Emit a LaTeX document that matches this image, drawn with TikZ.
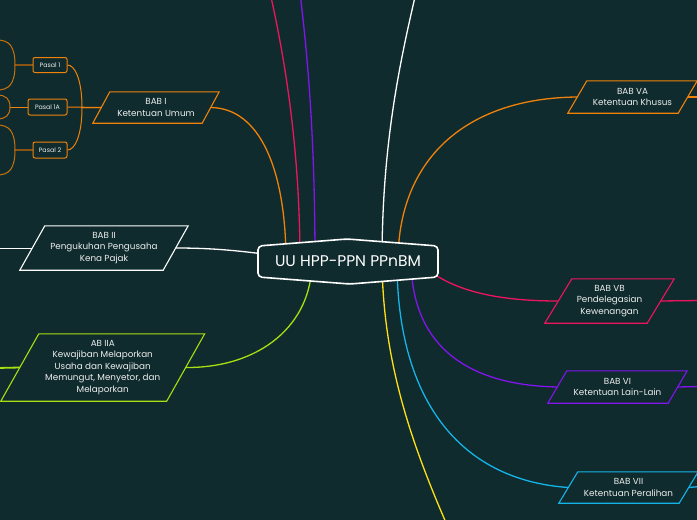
\documentclass[tikz,border=0pt]{standalone}
\usepackage{fontspec}
\setmainfont{Poppins}
\usetikzlibrary{calc}
\definecolor{bgc}{HTML}{0F2B2D}
\definecolor{cor}{HTML}{F0820A}
\definecolor{corl}{HTML}{C8720E}
\definecolor{cbr}{HTML}{8A5514}
\definecolor{cgr}{HTML}{A6E012}
\definecolor{cpk}{HTML}{F0145F}
\definecolor{cpu}{HTML}{8214EE}
\definecolor{ccy}{HTML}{14B4E8}
\definecolor{cye}{HTML}{FFE014}
\definecolor{ctx}{HTML}{EEEEEE}
\pgfdeclarelayer{bglayer}
\pgfdeclarelayer{edges}
\pgfdeclarelayer{shapes}
\pgfsetlayers{bglayer,edges,shapes,main}
\newcommand\paraout[3]{%
  \draw[#3,line width=1.1pt,fill=bgc]
    ($(#1.south west)+(-#2,0)$) -- ($(#1.south east)+(-#2,0)$) --
    ($(#1.north east)+(#2,0)$) -- ($(#1.north west)+(#2,0)$) -- cycle;}
\tikzset{
  para/.style 2 args={minimum width=#1pt, minimum height=#2pt, inner sep=0pt,
    align=center, text=ctx, font=\fontsize{8.8}{11.5}\selectfont},
  pasal/.style={draw=cor, fill=bgc, rounded corners=2pt, line width=1pt,
    inner sep=0pt, text=ctx, font=\fontsize{6.3}{8}\selectfont},
  conn/.style={line width=1.3pt},
}
\begin{document}
\begin{tikzpicture}[x=1pt,y=-1pt]
\begin{pgfonlayer}{bglayer}
\fill[bgc] (0,0) rectangle (697,520);
\end{pgfonlayer}
\useasboundingbox (0,0) rectangle (697,520);

% central node
\node[font=\fontsize{15.5}{18}\selectfont, text=white, minimum width=180pt,
      minimum height=45pt, inner sep=0pt] (c) at (348,261.5) {UU HPP-PPN PPnBM};
\begin{pgfonlayer}{shapes}
\draw[white, line width=1.6pt, fill=bgc, rounded corners=4pt]
  ($(c.center)+(-90,-15.5)$) -- ($(c.center)+(-1,-22.5)$) -- ($(c.center)+(90,-15.5)$) --
  ($(c.center)+(90,15.5)$) -- ($(c.center)+(2,22.5)$) -- ($(c.center)+(-90,15.5)$) -- cycle;
\end{pgfonlayer}

% chapter nodes
\node[para={109}{31}]  (b1)  at (156,107.5) {BAB I\\Ketentuan Umum};
\node[para={143}{44}]  (b2)  at (104,248)   {BAB II\\Pengukuhan Pengusaha\\Kena Pajak};
\node[para={165.5}{67}] (b2a) at (102.75,367.5) {AB IIA\\Kewajiban Melaporkan\\Usaha dan Kewajiban\\Memungut, Menyetor, dan\\Melaporkan};
\node[para={110}{32}]  (b5a) at (632.5,97)  {BAB VA\\Ketentuan Khusus};
\node[para={102}{44}]  (b5b) at (609.5,301) {BAB VB\\Pendelegasian\\Kewenangan};
\node[para={120}{32}]  (b6)  at (617.5,387) {BAB VI\\Ketentuan Lain-Lain};
\node[para={120}{31}]  (b7)  at (628.5,487.5) {BAB VII\\Ketentuan Peralihan};
\begin{pgfonlayer}{shapes}
\paraout{b1}{8.5}{cor}
\paraout{b2}{12.5}{white}
\paraout{b2a}{19}{cgr}
\paraout{b5a}{9.5}{cor}
\paraout{b5b}{13.5}{cpk}
\paraout{b6}{9.5}{cpu}
\paraout{b7}{9.5}{ccy}
\end{pgfonlayer}

% pasal nodes
\node[pasal, minimum width=34pt, minimum height=15pt] (p1)  at (50,65)    {Pasal 1};
\node[pasal, minimum width=39pt, minimum height=16pt] (p1a) at (47.5,107) {Pasal 1A};
\node[pasal, minimum width=34pt, minimum height=16pt] (p2)  at (50,150)   {Pasal 2};

% free ends
\coordinate (t1) at (271,-3);
\coordinate (t2) at (300.5,-3);
\coordinate (t3) at (415,-3);
\coordinate (yb) at (447,525);
\coordinate (r5a) at (700,97);
\coordinate (r5b) at (700,300.5);
\coordinate (r6) at (700,386.5);
\coordinate (r7) at (700,486.5);
\coordinate (l2) at (-3,248);
\coordinate (l2a) at (-3,368);
\coordinate (lp1u) at (-3,40);
\coordinate (lp1d) at (-3,90);
\coordinate (lp1au) at (-3,95);
\coordinate (lp1ad) at (-3,119);
\coordinate (lp2u) at (-3,125);
\coordinate (lp2d) at (-3,175);

\begin{pgfonlayer}{edges}
% central to chapters
\draw[conn, cor] (b1.east) .. controls (260,108) and (286,170) .. ($(c.center)+(-62,0)$);
\draw[conn, white] (b2.east) .. controls (215,248) and (240,251) .. ($(c.center)+(-76,-6.5)$);
\draw[conn, cgr] (b2a.east) .. controls (260,368) and (312,325) .. ($(c.center)+(-36,0)$);
\draw[conn, cor] (b5a.west) .. controls (465,98) and (398,160) .. ($(c.center)+(50,0)$);
\draw[conn, cpk] ($(c.center)+(77,6)$) .. controls (455,292) and (500,301) .. (b5b.west);
\draw[conn, cpu] ($(c.center)+(63,0)$) .. controls (412,340) and (460,385) .. (b6.west);
\draw[conn, ccy] ($(c.center)+(49,0)$) .. controls (397,400) and (460,480) .. (b7.west);
\draw[conn, cye] ($(c.center)+(34,0)$) .. controls (383,360) and (410,440) .. (yb);
\draw[conn, cpk] ($(c.center)+(-48,0)$) .. controls (300,150) and (285,60) .. (t1);
\draw[conn, cpu] ($(c.center)+(-33,0)$) .. controls (315,140) and (308,60) .. (t2);
\draw[conn, white] ($(c.center)+(34,0)$) .. controls (382,150) and (398,70) .. (t3);
% side extensions
\draw[conn, cor] (b5a.east) -- (r5a);
\draw[conn, cpk] (b5b.east) -- (r5b);
\draw[conn, cpu] (b6.east) -- (r6);
\draw[conn, ccy] (b7.east) -- (r7);
\draw[line width=1pt, white] (b2.west) -- (l2);
\draw[line width=1.8pt, cgr] (b2a.west) -- (l2a);
% BAB I to pasal
\draw[line width=1pt, cor] (b1.west) -- (82,107.5) .. controls (82,80) and (75,65) .. (p1.east);
\draw[line width=1pt, cor] (b1.west) -- (p1a.east);
\draw[line width=1pt, cor] (b1.west) -- (82,107.5) .. controls (82,135) and (75,150) .. (p2.east);
% pasal to off-picture children
\draw[line width=2.6pt, cbr] (p1.west) -- (15,65);
\draw[line width=1pt, corl] (15,65) .. controls (15,46) and (9,40) .. (lp1u);
\draw[line width=1pt, corl] (15,65) .. controls (15,84) and (9,90) .. (lp1d);
\draw[line width=1pt, cor] (p1a.west) -- (10,107);
\draw[line width=1pt, corl] (10,107) .. controls (10,99) and (6,95) .. (lp1au);
\draw[line width=1pt, corl] (10,107) .. controls (10,115) and (6,119) .. (lp1ad);
\draw[line width=2.6pt, cbr] (p2.west) -- (15,150);
\draw[line width=1pt, corl] (15,150) .. controls (15,131) and (9,125) .. (lp2u);
\draw[line width=1pt, corl] (15,150) .. controls (15,169) and (9,175) .. (lp2d);
\end{pgfonlayer}
\end{tikzpicture}
\end{document}
